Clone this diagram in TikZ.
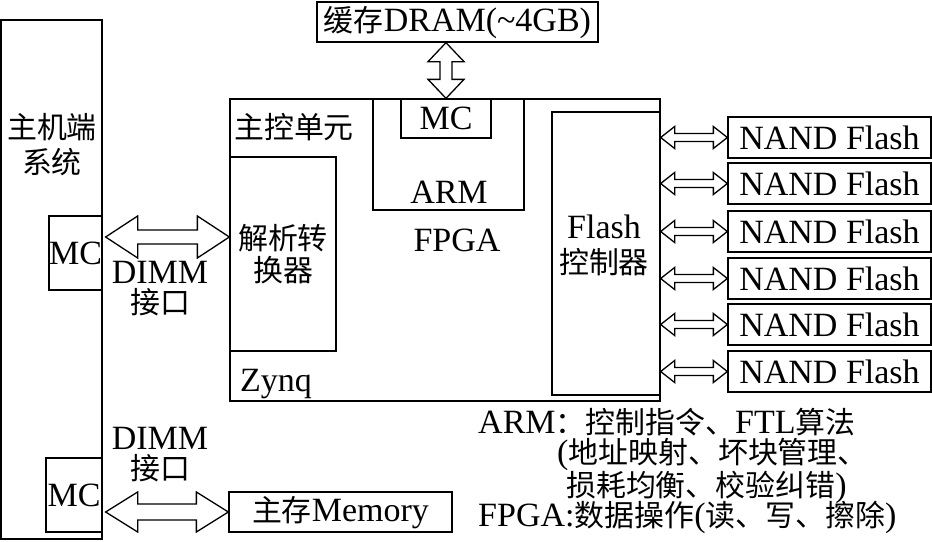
\documentclass[tikz,border=0pt]{standalone}
\usepackage{fontspec}
\setmainfont{Liberation Serif}
\newfontfamily\cjk[Scale=0.88]{Noto Sans CJK SC}
\newcommand\zh[1]{{\cjk #1}}
\usetikzlibrary{fit,calc}
% horizontal fat double arrow: #1 left tip, #2 right tip, #3 head length, #4 half head, #5 half shaft
\newcommand\harr[5]{\draw[fat] (#1) -- ($(#1)+(#3,#4)$) -- ($(#1)+(#3,#5)$) -- ($(#2)+(-#3,#5)$) -- ($(#2)+(-#3,#4)$) -- (#2) -- ($(#2)+(-#3,-#4)$) -- ($(#2)+(-#3,-#5)$) -- ($(#1)+(#3,-#5)$) -- ($(#1)+(#3,-#4)$) -- cycle;}
% vertical fat double arrow: #1 top tip, #2 bottom tip
\newcommand\varr[5]{\draw[fat] (#1) -- ($(#1)+(#4,#3)$) -- ($(#1)+(#5,#3)$) -- ($(#2)+(#5,-#3)$) -- ($(#2)+(#4,-#3)$) -- (#2) -- ($(#2)+(-#4,-#3)$) -- ($(#2)+(-#5,-#3)$) -- ($(#1)+(-#5,#3)$) -- ($(#1)+(-#4,#3)$) -- cycle;}
\begin{document}
\begin{tikzpicture}[x=1pt,y=-1pt,
  bx/.style={draw, line width=1.3pt, inner sep=0pt, fill=white},
  txt/.style={inner sep=0pt, align=center},
  fat/.style={draw, line width=1.3pt, fill=white, line join=miter},
  every node/.style={font=\fontsize{34}{35}\selectfont}]
\useasboundingbox (0,0) rectangle (932,541);

% host
\node[bx, fit={(1,20) (102,539)}] (host) {};
\node[txt] (hostlbl) at (52,145) {\zh{主机端}\\\zh{系统}};
\node[bx, fit={(49,216) (102,290)}] (hmc1) {};
\node[txt] (hmc1lbl) at (hmc1.center) {MC};
\node[bx, fit={(46,458) (102,532)}] (hmc2) {};
\node[txt] (hmc2lbl) at (hmc2.center) {MC};

% main control unit
\node[bx, fit={(230,99) (660,401)}] (zynq) {};
\node[txt, anchor=west] (ctrllbl) at (234,127) {\zh{主控单元}};
\node[txt, anchor=west] (zynqlbl) at (240,384) {Zynq};
\node[bx, fit={(230,157) (336,351)}] (conv) {};
\node[txt, font=\fontsize{34}{32}\selectfont] (convlbl) at (283,254) {\zh{解析转}\\\zh{换器}};
\node[bx, fit={(373,99) (524,210)}] (arm) {};
\node[bx, fit={(401,99) (491,138)}] (armmc) {};
\node[txt] (armmclbl) at (armmc.center) {MC};
\node[txt] (armlbl) at (449,192) {ARM};
\node[txt] (fpgalbl) at (457,240) {FPGA};
\node[bx, fit={(552,112) (660,395)}] (flash) {};
\node[txt] (flashlbl) at (604,245) {Flash\\\zh{控制器}};

% DRAM
\node[bx, fit={(317,2) (598,42)}] (dram) {};
\node[txt] (dramlbl) at ($(dram.center)+(0,1)$) {\zh{缓存}DRAM(\textasciitilde 4GB)};
\varr{armmc.north |- dram.south}{armmc.north}{19}{18}{6}

% NAND flashes
\foreach \i/\t in {1/117,2/163,3/211,4/258,5/304,6/351}{
  \node[bx, fit={(728,\t) (931,\t+41)}] (nand\i) {};
  \node[txt] (nand\i lbl) at (nand\i.center) {NAND Flash};
  \harr{nand\i.west -| flash.east}{nand\i.west}{14}{11}{4}
}

% DIMM links
\coordinate (d1a) at ($(hmc1.east)+(3,-16)$);
\harr{d1a}{d1a -| conv.west}{32}{21}{7}
\node[txt, font=\fontsize{34}{30}\selectfont] (dimm1) at (160,289) {DIMM\\\zh{接口}};

\node[bx, fit={(229,492) (452,532)}] (mem) {};
\node[txt] (memlbl) at ($(mem.center)+(0,1)$) {\zh{主存}Memory};
\coordinate (d2a) at ($(hmc2.east |- mem.west)+(3,0)$);
\harr{d2a}{mem.west}{32}{20}{8}
\node[txt, font=\fontsize{34}{30}\selectfont] (dimm2) at (160,455) {DIMM\\\zh{接口}};

% notes
\node[txt, anchor=west] (note1) at (478,422) {ARM\zh{：控制指令、}FTL\zh{算法}};
\node[txt, anchor=west] (note2) at (557,454) {(\zh{地址映射、坏块管理、}};
\node[txt, anchor=west] (note3) at (566,487) {\zh{损耗均衡、校验纠错})};
\node[txt, anchor=west] (note4) at (478,517) {FPGA:\zh{数据操作}(\zh{读、写、擦除})};
\end{tikzpicture}
\end{document}
